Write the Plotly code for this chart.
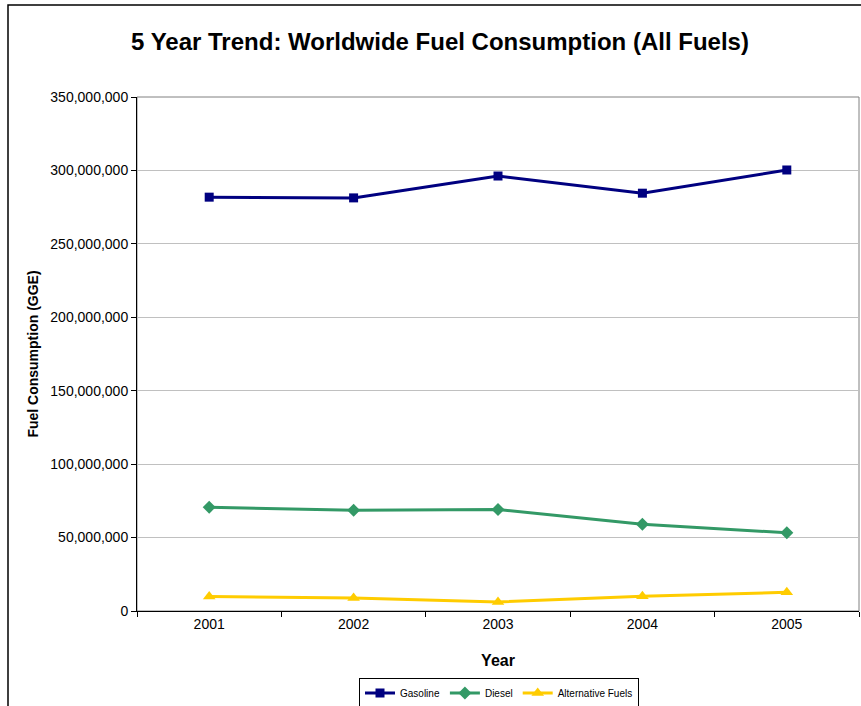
import plotly.graph_objects as go

# Fuel consumption by year, gallons of gasoline equivalent (GGE)
years = ["2001", "2002", "2003", "2004", "2005"]
gasoline = [281_800_000, 281_300_000, 296_200_000, 284_500_000, 300_300_000]
diesel = [70_700_000, 68_600_000, 69_100_000, 59_100_000, 53_300_000]
alternative = [9_800_000, 8_900_000, 6_200_000, 10_000_000, 12_700_000]

y_ticks = list(range(0, 350_000_001, 50_000_000))
y_tick_text = [f"{v:,}" for v in y_ticks]

FONT = "Arial, Liberation Sans, sans-serif"
W, H = 861, 706
L, R, T, B = 137, 2, 97, 95

series = [
    ("Gasoline", gasoline, "#000080", "square", 9),
    ("Diesel", diesel, "#339966", "diamond", 10),
    ("Alternative Fuels", alternative, "#FFCC00", "triangle-up", 11),
]

fig = go.Figure()
for name, vals, color, symbol, size in series:
    fig.add_trace(go.Scatter(
        x=years, y=vals, name=name, mode="lines+markers",
        line=dict(color=color, width=3),
        marker=dict(symbol=symbol, size=size, color=color),
    ))

pw = W - L - R
ph = H - T - B

fig.update_layout(
    width=W, height=H,
    margin=dict(l=L, r=R, t=T, b=B, autoexpand=False),
    paper_bgcolor="white", plot_bgcolor="white",
    font=dict(family=FONT, color="black"),
    title=dict(
        text="<b>5 Year Trend: Worldwide Fuel Consumption (All Fuels)</b>",
        font=dict(size=24, family=FONT, color="black"),
        x=440 / W, xref="container", xanchor="center",
        y=1 - 42 / H, yref="container", yanchor="middle",
    ),
    xaxis=dict(
        type="category", range=[-0.5, 4.5],
        showline=True, linecolor="black", linewidth=1,
        ticks="outside", tickson="boundaries", ticklen=5, tickcolor="black",
        tickfont=dict(size=14, family=FONT, color="black"),
        showgrid=False, zeroline=False, automargin=False,
        title=dict(text="<b>Year</b>", font=dict(size=16, family=FONT), standoff=24),
    ),
    yaxis=dict(
        range=[0, 350_000_000],
        tickvals=y_ticks, ticktext=y_tick_text,
        showline=True, linecolor="black", linewidth=1,
        ticks="outside", ticklen=5, tickcolor="black",
        tickfont=dict(size=14, family=FONT, color="black"),
        showgrid=True, gridcolor="#c0c0c0", gridwidth=1,
        zeroline=False, automargin=False,
        title=dict(text="<b>Fuel Consumption (GGE)</b>", font=dict(size=14, family=FONT), standoff=8),
    ),
    legend=dict(
        orientation="h",
        x=(499 - L) / pw, xanchor="center",
        y=(H - B - 693) / ph, yanchor="middle",
        bordercolor="black", borderwidth=1, bgcolor="white",
        font=dict(size=10, family=FONT, color="black"),
        itemwidth=30,
    ),
    showlegend=True,
)

# plot-area border (top and right edges show in grey)
fig.add_shape(type="rect", xref="paper", yref="paper", x0=0, x1=1, y0=0, y1=1,
              line=dict(color="#808080", width=1), layer="below")
# outer chart frame
fig.add_shape(type="rect", xref="paper", yref="paper",
              x0=(8 - L) / pw, x1=(W + 10 - L) / pw,
              y0=(H - B - (H + 10)) / ph, y1=(H - B - 5) / ph,
              line=dict(color="black", width=1.5), layer="below")

fig.write_html("out.html")
